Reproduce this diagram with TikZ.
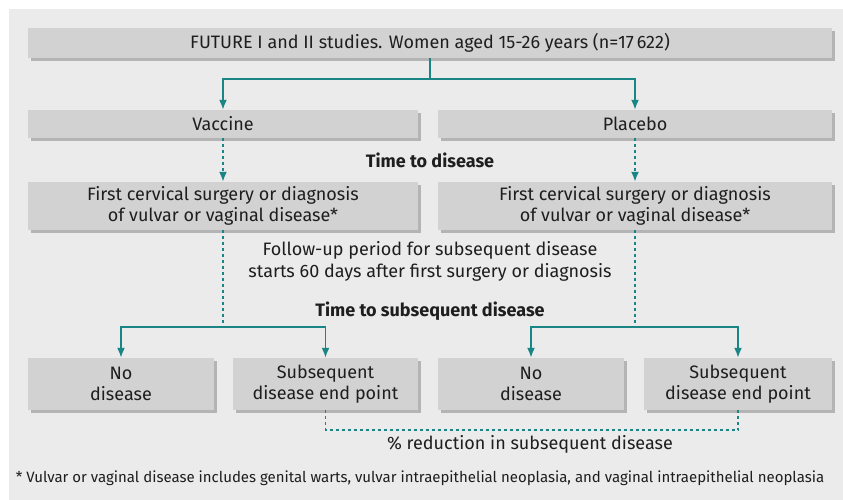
\documentclass[tikz,border=0pt]{standalone}
\usepackage{fontspec}
\setmainfont{Fira Sans}
\usetikzlibrary{arrows.meta,shadows,calc}
\definecolor{bgc}{HTML}{EBEBEB}
\definecolor{boxc}{HTML}{D2D2D2}
\definecolor{shad}{HTML}{B4B4B4}
\definecolor{tealc}{HTML}{1A8585}
\definecolor{txtc}{HTML}{1E1E1E}
\tikzset{
  box/.style={rectangle, fill=boxc, inner sep=0pt, align=center, text=txtc,
    font=\fontsize{18}{21.5}\selectfont,
    drop shadow={shadow xshift=3pt, shadow yshift=-3pt, fill=shad, opacity=1}},
  arr/.style={draw=tealc, line width=1.8pt, -{Latex[length=10pt,width=8pt]}},
  dasharr/.style={arr, dash pattern=on 3pt off 3pt},
  dashline/.style={draw=tealc, line width=1.8pt, dash pattern=on 3pt off 3pt},
  solidline/.style={draw=tealc, line width=1.8pt},
  lbl/.style={text=txtc, align=center, font=\fontsize{18}{22}\selectfont},
  blbl/.style={text=txtc, align=center, font=\fontsize{18}{22}\selectfont\bfseries},
}
\begin{document}
\begin{tikzpicture}[x=1pt,y=-1pt]
\useasboundingbox (0,0) rectangle (843,500);
\fill[bgc] (9,9) rectangle (843,500);

\node[box, minimum width=804pt, minimum height=30pt] (top) at (430,43) {FUTURE I and II studies. Women aged 15-26 years (n=17\,622)};
\node[box, minimum width=390pt, minimum height=28pt] (vac) at (223,124) {Vaccine};
\node[box, minimum width=394pt, minimum height=28pt] (plac) at (635,124) {Placebo};
\node[box, minimum width=390pt, minimum height=48pt] (f1) at (223,206) {First cervical surgery or diagnosis\\of vulvar or vaginal disease*};
\node[box, minimum width=394pt, minimum height=48pt] (f2) at (635,206) {First cervical surgery or diagnosis\\of vulvar or vaginal disease*};
\node[box, minimum width=186pt, minimum height=52pt] (nd1) at (121,384) {No\\disease};
\node[box, minimum width=185pt, minimum height=52pt] (se1) at (325.5,384) {Subsequent\\disease end point};
\node[box, minimum width=186pt, minimum height=52pt] (nd2) at (531,384) {No\\disease};
\node[box, minimum width=188pt, minimum height=52pt] (se2) at (738,384) {Subsequent\\disease end point};

\node[blbl] (t1) at (430,160) {Time to disease};
\node[lbl] (fu) at (430,261) {Follow-up period for subsequent disease\\starts 60 days after first surgery or diagnosis};
\node[blbl] (t2) at (430,311) {Time to subsequent disease};
\node[lbl] (red) at (530,444) {\% reduction in subsequent disease};
\node[text=txtc, font=\fontsize{15}{18}\selectfont] (fn) at (420,478) {* Vulvar or vaginal disease includes genital warts, vulvar intraepithelial neoplasia, and vaginal intraepithelial neoplasia};

% top split
\coordinate (sp) at ($(top.south)+(0,21)$);
\draw[solidline] (top.south) -- (sp);
\draw[arr] (sp) -| (vac.north);
\draw[arr] (sp) -| (plac.north);

% dashed arrows to first boxes
\draw[dasharr] (vac.south) -- (f1.north);
\draw[dasharr] (plac.south) -- (f2.north);

% second split
\coordinate (b1) at ($(f1.south)+(0,97)$);
\coordinate (b2) at ($(f2.south)+(0,97)$);
\draw[dashline] (f1.south) -- (b1);
\draw[dashline] (f2.south) -- (b2);
\draw[arr] (b1) -| (nd1.north);
\draw[arr] (b1) -| (se1.north);
\draw[arr] (b2) -| (nd2.north);
\draw[arr] (b2) -| (se2.north);

% comparison
\draw[dashline] (se1.south) -- ++(0,20) -| (se2.south);
\end{tikzpicture}
\end{document}
